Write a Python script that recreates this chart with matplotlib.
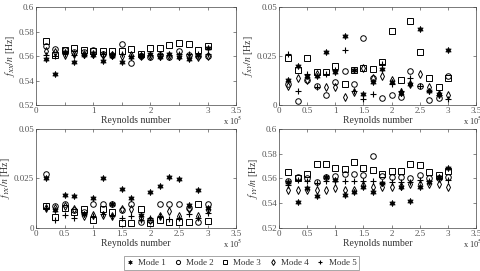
import matplotlib
matplotlib.use("Agg")
import matplotlib.pyplot as plt
from matplotlib.lines import Line2D

plt.rcParams['font.family'] = ['Liberation Serif', 'DejaVu Serif']
plt.rcParams['mathtext.fontset'] = 'stix'

re = [0.167, 0.333, 0.5, 0.667, 0.833, 1.0, 1.167, 1.333, 1.5, 1.667,
      1.833, 2.0, 2.167, 2.333, 2.5, 2.667, 2.833, 3.0]

fxx_m1 = [0.558, 0.545, 0.563, 0.555, 0.561, 0.561, 0.556, 0.560, 0.555, 0.559, 0.561, 0.562, 0.559, 0.562, 0.559, 0.558, 0.561, 0.567]
fxx_m2 = [0.568, 0.566, 0.565, 0.563, 0.563, 0.565, 0.562, 0.561, 0.570, 0.554, 0.560, 0.559, 0.561, 0.559, 0.564, 0.561, 0.560, 0.560]
fxx_m3 = [0.572, 0.561, 0.565, 0.567, 0.565, 0.564, 0.564, 0.564, 0.564, 0.566, 0.562, 0.567, 0.567, 0.569, 0.571, 0.570, 0.565, 0.568]
fxx_m4 = [0.564, 0.563, 0.561, 0.562, 0.562, 0.562, 0.561, 0.561, 0.560, 0.561, 0.560, 0.560, 0.560, 0.560, 0.560, 0.559, 0.559, 0.560]
fxx_m5 = [0.561, 0.560, 0.562, 0.561, 0.561, 0.562, 0.562, 0.562, 0.562, 0.560, 0.560, 0.561, 0.562, 0.561, 0.562, 0.562, 0.562, 0.562]

fxy_m1 = [0.013, 0.020, 0.015, 0.015, 0.027, 0.017, 0.035, 0.018, 0.0056, 0.012, 0.0185, 0.012, 0.006, 0.011, 0.039, 0.007, 0.0055, 0.028]
fxy_m2 = [0.011, 0.002, 0.013, 0.010, 0.005, 0.012, 0.0175, 0.011, 0.034, 0.014, 0.0035, 0.005, 0.004, 0.0176, 0.010, 0.0027, 0.0037, 0.015]
fxy_m3 = [0.024, 0.018, 0.024, 0.017, 0.017, 0.020, 0.011, 0.018, 0.019, 0.0185, 0.022, 0.038, 0.013, 0.0427, 0.027, 0.014, 0.009, 0.014]
fxy_m4 = [0.010, 0.014, 0.013, 0.016, 0.009, 0.009, 0.004, 0.0065, 0.019, 0.014, 0.015, 0.013, 0.0066, 0.011, 0.016, 0.009, 0.0055, 0.005]
fxy_m5 = [0.026, 0.007, 0.016, 0.009, 0.016, 0.018, 0.028, 0.007, 0.003, 0.0055, 0.021, 0.011, 0.007, 0.014, 0.010, 0.007, 0.005, 0.003]

fyx_m1 = [0.025, 0.009, 0.0165, 0.016, 0.007, 0.015, 0.025, 0.012, 0.0195, 0.015, 0.0067, 0.018, 0.021, 0.0255, 0.0245, 0.0117, 0.019, 0.010]
fyx_m2 = [0.027, 0.011, 0.012, 0.009, 0.008, 0.012, 0.012, 0.012, 0.009, 0.012, 0.003, 0.004, 0.012, 0.012, 0.012, 0.010, 0.003, 0.012]
fyx_m3 = [0.011, 0.0055, 0.010, 0.008, 0.0098, 0.004, 0.0095, 0.0078, 0.0027, 0.0027, 0.0095, 0.0027, 0.004, 0.003, 0.003, 0.003, 0.0122, 0.0034]
fyx_m4 = [0.010, 0.010, 0.011, 0.0095, 0.006, 0.0065, 0.0065, 0.006, 0.0095, 0.0095, 0.005, 0.004, 0.006, 0.0083, 0.006, 0.0095, 0.006, 0.009]
fyx_m5 = [0.010, 0.004, 0.0065, 0.005, 0.007, 0.006, 0.007, 0.006, 0.005, 0.006, 0.004, 0.005, 0.006, 0.0045, 0.005, 0.007, 0.005, 0.0075]

fyy_m1 = [0.557, 0.541, 0.552, 0.546, 0.561, 0.559, 0.547, 0.549, 0.553, 0.549, 0.556, 0.540, 0.553, 0.5415, 0.553, 0.557, 0.5615, 0.5687]
fyy_m2 = [0.558, 0.561, 0.560, 0.557, 0.561, 0.562, 0.5635, 0.5635, 0.563, 0.578, 0.5617, 0.561, 0.561, 0.560, 0.563, 0.560, 0.560, 0.561]
fyy_m3 = [0.565, 0.560, 0.5635, 0.572, 0.572, 0.5685, 0.5676, 0.573, 0.5685, 0.567, 0.564, 0.566, 0.5657, 0.5714, 0.5706, 0.565, 0.5625, 0.5657]
fyy_m4 = [0.551, 0.551, 0.551, 0.551, 0.551, 0.552, 0.551, 0.551, 0.555, 0.553, 0.553, 0.553, 0.554, 0.5555, 0.5555, 0.5557, 0.5557, 0.553]
fyy_m5 = [0.555, 0.559, 0.558, 0.556, 0.558, 0.558, 0.558, 0.558, 0.558, 0.558, 0.556, 0.5575, 0.557, 0.557, 0.559, 0.558, 0.5595, 0.559]

mode_labels = ['Mode 1', 'Mode 2', 'Mode 3', 'Mode 4', 'Mode 5']
xticks = [0, 0.5, 1, 1.5, 2, 2.5, 3, 3.5]
xtick_labels_full = ['0', '0.5', '1', '1.5', '2', '2.5', '3', '3.5']
xtick_labels_sparse = ['0', '', '1', '', '2', '', '3', '3.5']

panels = [
    (r'$f_{XX}/n$ [Hz]', [fxx_m1, fxx_m2, fxx_m3, fxx_m4, fxx_m5], (0.52, 0.6), [0.52, 0.54, 0.56, 0.58, 0.6], ['0.52', '0.54', '0.56', '0.58', '0.6'], xtick_labels_sparse),
    (r'$f_{XY}/n$ [Hz]', [fxy_m1, fxy_m2, fxy_m3, fxy_m4, fxy_m5], (0, 0.05), [0, 0.025, 0.05], ['0', '0.025', '0.05'], xtick_labels_full),
    (r'$f_{YX}/n$ [Hz]', [fyx_m1, fyx_m2, fyx_m3, fyx_m4, fyx_m5], (0, 0.05), [0, 0.025, 0.05], ['0', '0.025', '0.05'], xtick_labels_full),
    (r'$f_{YY}/n$ [Hz]', [fyy_m1, fyy_m2, fyy_m3, fyy_m4, fyy_m5], (0.52, 0.6), [0.52, 0.54, 0.56, 0.58, 0.6], ['0.52', '0.54', '0.56', '0.58', '0.6'], xtick_labels_full),
]

styles = [
    dict(marker=(6, 1, 0), markersize=4.5, markerfacecolor='black', markeredgecolor='black', markeredgewidth=0.5),
    dict(marker='o', markersize=4, markerfacecolor='none', markeredgecolor='black', markeredgewidth=0.7),
    dict(marker='s', markersize=4, markerfacecolor='none', markeredgecolor='black', markeredgewidth=0.7),
    dict(marker='d', markersize=4, markerfacecolor='none', markeredgecolor='black', markeredgewidth=0.7),
    dict(marker='+', markersize=5, markerfacecolor='none', markeredgecolor='black', markeredgewidth=0.8),
]

fig = plt.figure(figsize=(4.81, 2.71), dpi=100)
positions = [
    [0.075, 0.612, 0.416, 0.362],
    [0.580, 0.612, 0.410, 0.362],
    [0.075, 0.159, 0.416, 0.365],
    [0.580, 0.159, 0.410, 0.365],
]

gray = '#555555'
for pos, (ylab, series, ylim, yt, ytl, xtl) in zip(positions, panels):
    ax = fig.add_axes(pos)
    for s, st in zip(series, styles):
        ax.plot(re, s, linestyle='none', **st)
    ax.set_xlim(0, 3.5)
    ax.set_ylim(*ylim)
    ax.set_xticks(xticks)
    ax.set_xticklabels(xtl)
    ax.set_yticks(yt)
    ax.set_yticklabels(ytl)
    ax.tick_params(direction='in', top=True, right=True, length=2.5, width=0.5,
                   labelsize=6.5, colors=gray, labelcolor=gray, pad=1.5)
    for sp in ax.spines.values():
        sp.set_linewidth(0.5)
        sp.set_color('#444444')
    ax.set_xlabel('Reynolds number', fontsize=7, color='#333333', labelpad=0.5)
    ax.set_ylabel(ylab, fontsize=7, color='#333333', labelpad=1)
    ax.text(1.03, -0.1, r'x 10$^5$', transform=ax.transAxes, ha='right', va='top',
            fontsize=6, color='#333333')

handles = [Line2D([], [], linestyle='none', **dict(st, markersize=3)) for st in styles]
leg = fig.legend(handles, mode_labels, loc='center', bbox_to_anchor=(0.502, 0.03),
                 ncol=5, fontsize=6.5, frameon=True, fancybox=False,
                 handlelength=0.8, handletextpad=0.5, columnspacing=0.9,
                 borderpad=0.3, edgecolor='#666666')
leg.get_frame().set_linewidth(0.5)
for t in leg.get_texts():
    t.set_color('#333333')

fig.savefig('out.png', dpi=100)
